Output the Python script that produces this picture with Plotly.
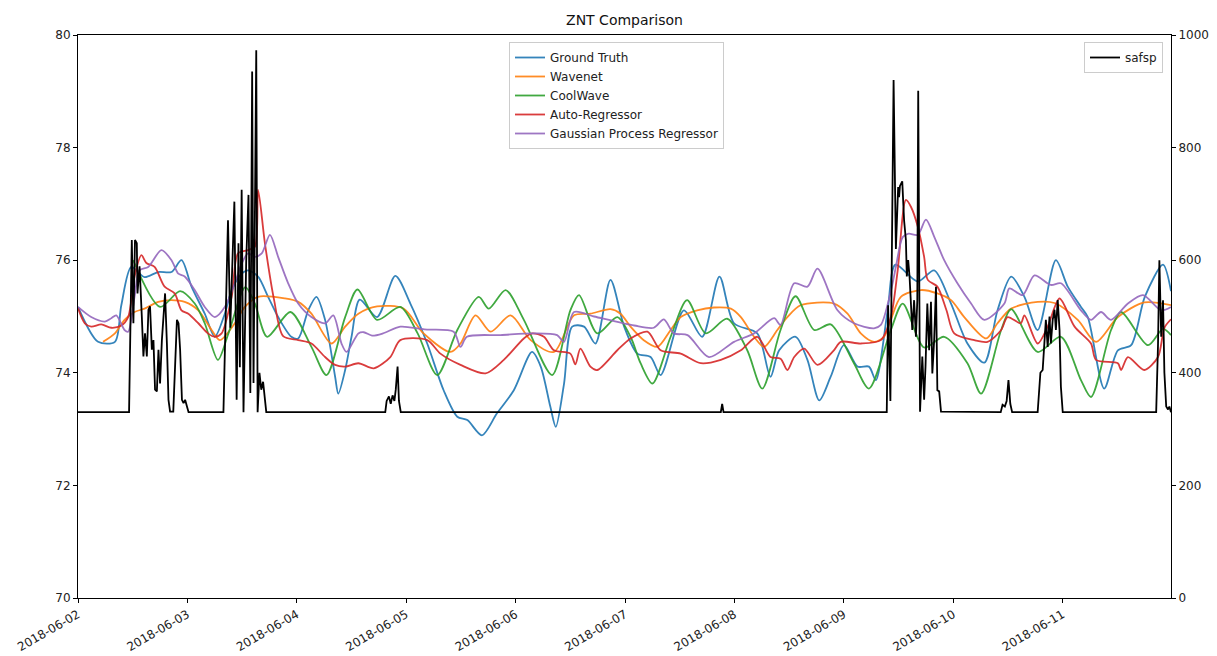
import pandas as pd
import plotly.graph_objects as go

START = "2018-06-02"
END_HOURS = 239.75

# (hours since 2018-06-02 00:00, value)
ground_truth = [(0, 75.17), (4.4, 74.55), (8.1, 74.55), (9.5, 75.2), (11.7, 75.88), (14.6, 75.70), (17.6, 75.79),
                (20.5, 75.79), (22.7, 76.0), (24.9, 75.53), (27.8, 75.05), (30.0, 74.64), (32.2, 75.05), (33.7, 75.47),
                (35.9, 75.76), (37.3, 75.82), (39.5, 75.71), (41.7, 75.35), (43.9, 74.99), (46.8, 74.64), (48.3, 74.61),
                (50.5, 75.11), (52.3, 75.35), (54.2, 74.94), (56.4, 73.93), (57.1, 73.63), (58.6, 74.05), (60.0, 74.64),
                (61.8, 75.3), (65.6, 74.99), (69.6, 75.72), (72.9, 75.23), (76.6, 74.52), (80.2, 73.69), (83.2, 73.22),
                (85.4, 73.16), (88.6, 72.89), (91.9, 73.28), (95.6, 73.69), (99.6, 74.37), (101.5, 74.11), (103.6, 73.4),
                (104.8, 73.04), (106.6, 73.8), (108.4, 74.82), (111.0, 74.82), (113.5, 74.52), (116.8, 75.65),
                (119.8, 74.82), (122.7, 74.34), (125.6, 74.28), (127.8, 73.96), (132.9, 75.11), (136.9, 74.64),
                (140.7, 75.71), (143.9, 74.88), (149.0, 74.70), (151.9, 73.93), (153.8, 74.40), (157.4, 74.64),
                (160.0, 74.23), (162.6, 73.51), (165.1, 73.93), (168.0, 74.49), (171.0, 74.11), (173.5, 74.11),
                (175.0, 73.87), (177.6, 75.11), (179.3, 75.92), (184.2, 75.62), (187.8, 75.82), (191.5, 75.23),
                (195.1, 74.52), (198.8, 74.18), (201.7, 75.11), (204.7, 75.71), (207.6, 75.35), (210.5, 74.76),
                (214.5, 76.0), (217.1, 75.53), (220.0, 75.17), (221.5, 74.99), (225.1, 73.72), (228.1, 74.40),
                (231.0, 74.49), (234.0, 75.35), (238.0, 75.92), (239.75, 75.45)]

wavenet = [(5.5, 74.55), (8.1, 74.70), (10.2, 74.94), (12.4, 75.08), (14.6, 75.14), (17.6, 75.26), (20.5, 75.29),
           (23.4, 75.26), (26.4, 75.11), (29.3, 74.76), (31.1, 74.58), (34.4, 74.88), (36.6, 75.17), (39.5, 75.35),
           (45.4, 75.32), (48.3, 75.26), (51.2, 75.05), (55.6, 74.52), (58.6, 74.82), (61.5, 75.05), (65.6, 75.18),
           (71.4, 75.14), (75.8, 74.70), (81.7, 74.37), (83.9, 74.52), (87.2, 75.02), (90.5, 74.73), (94.9, 75.02),
           (99.3, 74.58), (104.4, 74.37), (108.8, 75.02), (112.4, 75.05), (116.8, 75.13), (119.0, 75.05),
           (121.2, 74.82), (124.1, 74.58), (127.1, 74.46), (130.0, 74.76), (132.2, 74.99), (135.8, 75.11),
           (139.5, 75.16), (143.2, 75.14), (145.4, 74.99), (148.3, 74.64), (150.5, 74.46), (153.4, 74.76),
           (155.6, 74.99), (158.5, 75.20), (165.8, 75.23), (168.8, 75.05), (171.7, 74.70), (174.6, 74.55),
           (176.8, 74.64), (178.3, 74.94), (180.5, 75.35), (184.9, 75.47), (188.5, 75.41), (191.5, 75.29),
           (194.4, 74.99), (199.2, 74.61), (201.7, 74.88), (204.7, 75.14), (210.5, 75.26), (214.2, 75.24),
           (219.3, 74.94), (223.3, 74.55), (228.1, 74.99), (233.9, 75.25), (239.75, 75.20)]

coolwave = [(12.1, 76.0), (18.0, 75.17), (22.4, 75.45), (25.6, 75.23), (27.8, 74.88), (30.7, 74.23), (33.0, 74.7),
            (36.7, 75.52), (38.8, 75.23), (41.5, 74.64), (46.6, 75.08), (51.2, 74.46), (54.5, 73.96), (58.6, 74.99),
            (61.3, 75.48), (65.6, 74.94), (70.7, 75.17), (74.5, 74.7), (78.8, 73.96), (83.2, 74.76), (87.9, 75.35),
            (90.1, 75.14), (93.8, 75.47), (97.8, 74.94), (104.0, 73.96), (108.0, 75.11), (109.9, 75.38),
            (113.9, 74.70), (118.3, 74.99), (121.2, 74.64), (123.4, 74.17), (126.0, 73.81), (130.0, 74.64),
            (133.6, 75.29), (137.7, 74.70), (142.4, 74.96), (146.8, 74.40), (150.1, 73.72), (154.1, 74.76),
            (157.4, 75.36), (161.5, 74.76), (165.1, 74.86), (170.2, 74.17), (173.5, 73.72), (178.3, 74.76),
            (180.9, 75.23), (185.6, 74.45), (190.0, 74.64), (195.1, 74.17), (198.1, 73.63), (202.5, 74.76),
            (204.7, 75.13), (210.5, 74.37), (215.6, 74.64), (220.0, 73.87), (222.2, 73.57), (226.6, 74.76),
            (228.8, 75.08), (234.7, 74.49), (238.0, 74.78), (239.75, 74.67)]

auto_regressor = [(0, 75.15), (1.5, 74.88), (2.9, 74.82), (5.1, 74.86), (7.3, 74.80), (9.5, 74.84), (11.0, 74.99),
                  (12.4, 75.71), (13.9, 76.09), (15.0, 75.95), (16.8, 75.88), (19.0, 75.53), (21.2, 75.41),
                  (22.7, 75.11), (24.2, 75.05), (26.4, 74.88), (28.5, 74.70), (30.0, 74.64), (31.5, 74.70),
                  (33.7, 75.35), (35.1, 76.12), (37.3, 76.18), (38.8, 76.24), (39.5, 77.25), (41.0, 76.3),
                  (43.0, 75.3), (45.0, 74.65), (48.3, 74.58), (51.2, 74.52), (54.2, 74.28), (56.4, 74.14),
                  (58.6, 74.11), (61.5, 74.17), (64.9, 74.08), (68.5, 74.28), (70.7, 74.58), (76.6, 74.58),
                  (79.5, 74.34), (83.9, 74.14), (89.4, 73.99), (93.4, 74.23), (97.8, 74.61), (99.6, 74.70),
                  (102.2, 74.64), (104.4, 74.40), (108.0, 74.34), (109.1, 74.15), (110.2, 74.43), (112.4, 74.11),
                  (113.9, 74.05), (118.3, 74.40), (121.2, 74.61), (124.9, 74.73), (127.8, 74.40), (132.2, 74.34),
                  (136.6, 74.17), (141.0, 74.23), (145.4, 74.40), (149.0, 74.64), (151.9, 74.28), (154.1, 74.25),
                  (155.6, 74.05), (157.1, 74.28), (159.3, 74.43), (162.2, 74.14), (165.8, 74.40), (167.3, 74.55),
                  (171.7, 74.52), (176.1, 74.58), (178.3, 74.99), (179.8, 75.82), (181.6, 77.07), (182.7, 76.95),
                  (184.2, 76.6), (185.6, 76.06), (186.4, 75.65), (188.5, 75.53), (190.5, 75.11), (192.2, 74.70),
                  (196.6, 74.58), (199.5, 74.55), (202.5, 74.76), (203.9, 74.99), (206.8, 74.88), (207.6, 75.02),
                  (210.5, 74.52), (212.7, 74.82), (215.3, 75.32), (218.6, 74.82), (222.2, 74.52), (223.3, 74.23),
                  (228.1, 74.17), (228.8, 74.05), (230.3, 74.28), (233.9, 74.05), (236.9, 74.28), (238.3, 74.8),
                  (239.75, 74.95)]

gaussian_process = [(0, 75.17), (2.9, 74.99), (5.9, 74.91), (7.3, 74.97), (8.4, 75.02), (10.2, 74.76), (11.0, 74.73),
                    (12.4, 75.35), (13.5, 75.82), (15.4, 75.88), (18.3, 76.18), (20.5, 76.00), (22.0, 75.76),
                    (23.4, 75.71), (25.6, 75.47), (27.8, 75.17), (30.0, 74.99), (32.2, 75.17), (34.4, 75.59),
                    (35.9, 75.94), (37.3, 76.12), (38.8, 76.06), (40.3, 76.12), (42.1, 76.45), (43.9, 76.06),
                    (46.1, 75.59), (48.3, 75.23), (51.2, 74.99), (54.2, 74.88), (56.0, 75.02), (57.8, 74.52),
                    (58.9, 74.37), (61.5, 74.70), (62.7, 74.72), (64.5, 74.66), (66.9, 74.70), (70.7, 74.82),
                    (76.0, 74.77), (82.4, 74.73), (83.9, 74.46), (85.3, 74.64), (92.7, 74.67), (100.0, 74.70),
                    (105.1, 74.67), (106.6, 74.55), (108.8, 75.08), (113.2, 75.00), (122.0, 74.84), (126.3, 74.80),
                    (128.5, 74.95), (130.7, 74.70), (133.7, 74.67), (138.4, 74.28), (143.9, 74.55), (148.3, 74.70),
                    (152.7, 74.97), (154.1, 74.85), (157.1, 75.59), (160.0, 75.53), (162.2, 75.85), (166.6, 75.11),
                    (170.2, 74.88), (174.6, 74.79), (176.1, 74.85), (178.3, 75.45), (179.4, 75.88), (180.9, 76.41),
                    (182.2, 76.47), (184.2, 76.45), (186.0, 76.72), (187.8, 76.42), (190.0, 76.0), (192.9, 75.59),
                    (195.9, 75.23), (198.8, 74.94), (203.2, 75.23), (204.3, 75.50), (207.2, 75.38), (209.8, 75.73),
                    (213.4, 75.56), (215.6, 75.59), (220.0, 75.11), (222.2, 74.94), (224.4, 75.08), (226.6, 74.94),
                    (230.3, 75.23), (233.6, 75.38), (237.6, 75.11), (239.75, 75.17)]

safsp = [(0, 330), (11.2, 330), (11.8, 636), (12.15, 488), (12.5, 636), (12.9, 630), (13.05, 541), (13.5, 589),
         (14.0, 500), (14.35, 429), (14.7, 470), (15.1, 429), (15.45, 512), (15.8, 518), (16.2, 441), (16.55, 458),
         (16.9, 370), (17.3, 367), (17.65, 441), (18.0, 381), (18.4, 458), (18.75, 500), (19.1, 541), (19.5, 452),
         (19.85, 352), (20.2, 331), (20.9, 331), (21.7, 494), (22.05, 488), (22.4, 441), (22.8, 352), (23.15, 346),
         (23.5, 352), (23.9, 340), (24.25, 330),
         (31.9, 330), (32.9, 671), (33.4, 480), (34.3, 704), (34.8, 352), (35.2, 630), (35.5, 410), (35.9, 725),
         (36.3, 330), (36.9, 600), (37.4, 716), (37.8, 364), (38.2, 935), (38.5, 382), (39.1, 973), (39.4, 330),
         (39.8, 400), (40.2, 370), (40.6, 384), (40.9, 365), (41.3, 330),
         (67.4, 330), (67.7, 350), (68.2, 358), (68.6, 345), (69.0, 360), (69.4, 350), (69.7, 370), (70.1, 411),
         (70.4, 350), (70.8, 330),
         (141.0, 330), (141.3, 345), (141.6, 330),
         (177.4, 330), (177.7, 520), (178.2, 350), (178.9, 920), (179.4, 620), (179.9, 730), (180.1, 712),
         (180.3, 732), (180.8, 740), (181.2, 671), (181.6, 636), (181.8, 571), (182.1, 600), (182.4, 571),
         (183.0, 476), (183.4, 529), (183.8, 464), (184.1, 529), (184.3, 901), (184.7, 331), (185.2, 429),
         (185.6, 352), (185.9, 411), (186.3, 523), (186.7, 440), (187.1, 526), (187.4, 399), (187.8, 458),
         (188.2, 553), (188.5, 369), (188.9, 367), (189.3, 331),
         (202.4, 330), (202.8, 343), (203.3, 340), (203.7, 350), (204.1, 387), (204.5, 345), (204.9, 330),
         (210.5, 330), (211.1, 400), (211.6, 405), (212.0, 452), (212.3, 494), (212.7, 446), (213.1, 500),
         (213.4, 452), (213.8, 494), (214.2, 512), (214.5, 476), (214.9, 529), (215.3, 476), (215.6, 375),
         (216.0, 330),
         (236.5, 330), (236.9, 450), (237.2, 600), (237.6, 464), (238.0, 529), (238.3, 400), (238.7, 340),
         (239.1, 335), (239.4, 340), (239.75, 330)]

series = [("Ground Truth", ground_truth, "#1f77b4"),
          ("Wavenet", wavenet, "#ff7f0e"),
          ("CoolWave", coolwave, "#2ca02c"),
          ("Auto-Regressor", auto_regressor, "#d62728"),
          ("Gaussian Process Regressor", gaussian_process, "#9467bd")]

base = pd.Timestamp(START)


def to_xy(pairs):
    xs = [base + pd.Timedelta(hours=h) for h, _ in pairs]
    ys = [v for _, v in pairs]
    return xs, ys


fig = go.Figure()
for name, pairs, color in series:
    xs, ys = to_xy(pairs)
    fig.add_trace(go.Scatter(x=xs, y=ys, name=name, mode="lines",
                             line=dict(color=color, width=1.8, shape="spline", smoothing=0.8),
                             opacity=0.9, legend="legend"))

xs, ys = to_xy(safsp)
fig.add_trace(go.Scatter(x=xs, y=ys, name="safsp", mode="lines", yaxis="y2",
                         line=dict(color="black", width=1.8), legend="legend2"))

font = dict(family="DejaVu Sans, Arial, sans-serif", size=12, color="#222222")
axis_common = dict(showgrid=False, zeroline=False, showline=True, linecolor="black", linewidth=1,
                   ticks="outside", ticklen=4, tickcolor="black", tickfont=font, automargin=False)

fig.update_layout(
    width=1217, height=656,
    margin=dict(l=78, r=46, t=35, b=58, autoexpand=False),
    paper_bgcolor="white", plot_bgcolor="white",
    title=dict(text="ZNT Comparison", x=0.5, xref="paper", xanchor="center",
               y=1 - 20 / 656, yref="container", yanchor="middle",
               font=dict(family="DejaVu Sans, Arial, sans-serif", size=14, color="#111111")),
    xaxis=dict(type="date", range=[base, base + pd.Timedelta(hours=END_HOURS)],
               tickformat="%Y-%m-%d", dtick=86400000, tick0=START, tickangle=-30,
               mirror=True, **axis_common),
    yaxis=dict(range=[70, 80], dtick=2, tick0=70, **axis_common),
    yaxis2=dict(range=[0, 1000], dtick=200, tick0=0, overlaying="y", side="right", anchor="x",
                **axis_common),
    legend=dict(x=(509 - 78) / 1093, y=1 - 7 / 563, xanchor="left", yanchor="top",
                bgcolor="rgba(255,255,255,0.85)", bordercolor="#cccccc", borderwidth=1,
                font=font, tracegroupgap=0),
    legend2=dict(x=(1163 - 78) / 1093, y=1 - 7 / 563, xanchor="right", yanchor="top",
                 bgcolor="rgba(255,255,255,0.85)", bordercolor="#cccccc", borderwidth=1,
                 font=font),
    showlegend=True,
)

fig.write_html("out.html")
